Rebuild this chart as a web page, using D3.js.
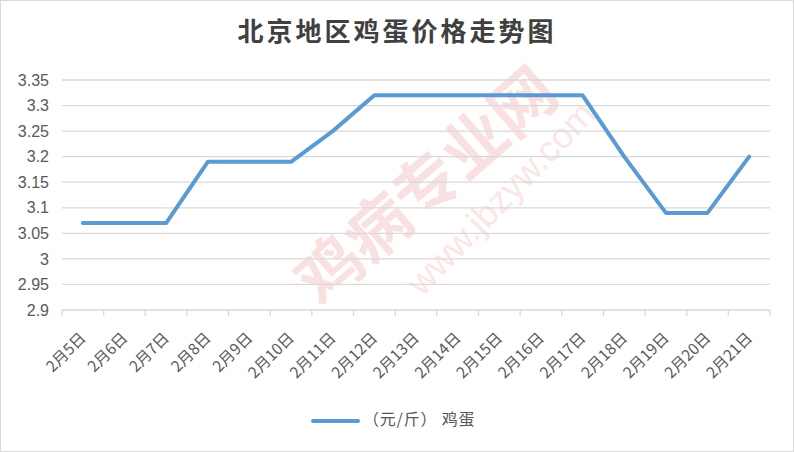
<!DOCTYPE html>
<html><head><meta charset="utf-8">
<script src="https://cdn.jsdelivr.net/npm/d3@7"></script>
<style>
html,body{margin:0;padding:0;background:#fff;}
svg{display:block;}
</style></head>
<body>
<svg id="c" width="794" height="452"></svg>
<script>
const categories = ["2月5日","2月6日","2月7日","2月8日","2月9日","2月10日","2月11日","2月12日","2月13日","2月14日","2月15日","2月16日","2月17日","2月18日","2月19日","2月20日","2月21日"];
const eggPrice = [3.07,3.07,3.07,3.19,3.19,3.19,3.25,3.32,3.32,3.32,3.32,3.32,3.32,3.2,3.09,3.09,3.2];
const yTicks = [2.9,2.95,3,3.05,3.1,3.15,3.2,3.25,3.3,3.35];
const seriesName = "（元/斤） 鸡蛋";
const title = "北京地区鸡蛋价格走势图";

const svg = d3.select("#c");
const W = 794, H = 452;
const m = {left:62, right:24, top:80, bottom:142};

svg.append("rect").attr("x",0.5).attr("y",0.5).attr("width",W-1).attr("height",H-1)
  .attr("fill","#fff").attr("stroke","#d9d9d9").attr("stroke-width",1);

const x = d3.scaleBand().domain(categories).range([m.left, W-m.right]).padding(0);
const y = d3.scaleLinear().domain([2.9,3.35]).range([H-m.bottom, m.top]);

// watermark (faint)
const wm = svg.append("g").attr("fill","#e03030");
wm.append("text").attr("transform","translate(430,190) rotate(-41)")
  .attr("font-family","Noto Sans CJK SC").attr("font-weight","bold").attr("font-size",64)
  .attr("text-anchor","middle").attr("dominant-baseline","middle").attr("opacity",0.14).text("鸡病专业网");
wm.append("text").attr("transform","translate(503,200) rotate(-46)")
  .attr("font-family","Liberation Sans").attr("font-size",36)
  .attr("text-anchor","middle").attr("dominant-baseline","middle").attr("opacity",0.12).text("www.jbzyw.com");

// gridlines
svg.append("g").selectAll("line").data(yTicks.filter(d=>d>2.9)).join("line")
  .attr("x1",m.left).attr("x2",W-m.right)
  .attr("y1",d=>y(d)).attr("y2",d=>y(d))
  .attr("stroke","#d9d9d9").attr("stroke-width",1.3);

// y axis labels
const yAxis = d3.axisLeft(y).tickValues(yTicks).tickSize(0).tickPadding(13).tickFormat(d=>String(+d.toFixed(2)));
const ya = svg.append("g").attr("transform",`translate(${m.left},0)`).call(yAxis);
ya.select(".domain").remove();
ya.selectAll("text").attr("font-family","Liberation Sans, Arial, sans-serif").attr("font-size",16).attr("fill","#595959");

// x axis
const xa = svg.append("g").attr("transform",`translate(0,${y(2.9)})`);
xa.append("line").attr("x1",m.left).attr("x2",W-m.right).attr("stroke","#d9d9d9").attr("stroke-width",1.3);
const bounds = categories.map(c=>x(c)).concat([x(categories[categories.length-1])+x.bandwidth()]);
xa.selectAll("line.tk").data(bounds).join("line").attr("class","tk")
  .attr("x1",d=>d).attr("x2",d=>d).attr("y1",0).attr("y2",6)
  .attr("stroke","#d9d9d9").attr("stroke-width",1.3);
xa.selectAll("text").data(categories).join("text")
  .attr("transform",d=>`translate(${x(d)+x.bandwidth()/2+1},${26}) rotate(-45)`)
  .attr("text-anchor","end").attr("dominant-baseline","middle")
  .attr("font-family","Noto Sans CJK SC, Liberation Sans, sans-serif").attr("font-size",15.5)
  .attr("fill","#595959").text(d=>d);

// line
const line = d3.line().x((d,i)=>x(categories[i])+x.bandwidth()/2).y(d=>y(d));
svg.append("path").datum(eggPrice).attr("d",line)
  .attr("fill","none").attr("stroke","#5b9bd5").attr("stroke-width",4)
  .attr("stroke-linejoin","round").attr("stroke-linecap","round");

// title
svg.append("text").attr("x",W/2).attr("y",34).attr("text-anchor","middle").attr("dominant-baseline","middle")
  .attr("font-family","Noto Sans CJK SC, sans-serif").attr("font-weight","bold").attr("font-size",26)
  .attr("letter-spacing",3).attr("fill","#404040").text(title);

// legend
const lg = svg.append("g").attr("transform","translate(313,421)");
lg.append("line").attr("x1",0).attr("x2",45).attr("stroke","#5b9bd5").attr("stroke-width",4).attr("stroke-linecap","round");
lg.append("text").attr("x",50).attr("y",0).attr("dominant-baseline","middle")
  .attr("font-family","Noto Sans CJK SC, sans-serif").attr("font-size",16).attr("letter-spacing",0.8).attr("fill","#595959").text(seriesName);
</script>
</body></html>
